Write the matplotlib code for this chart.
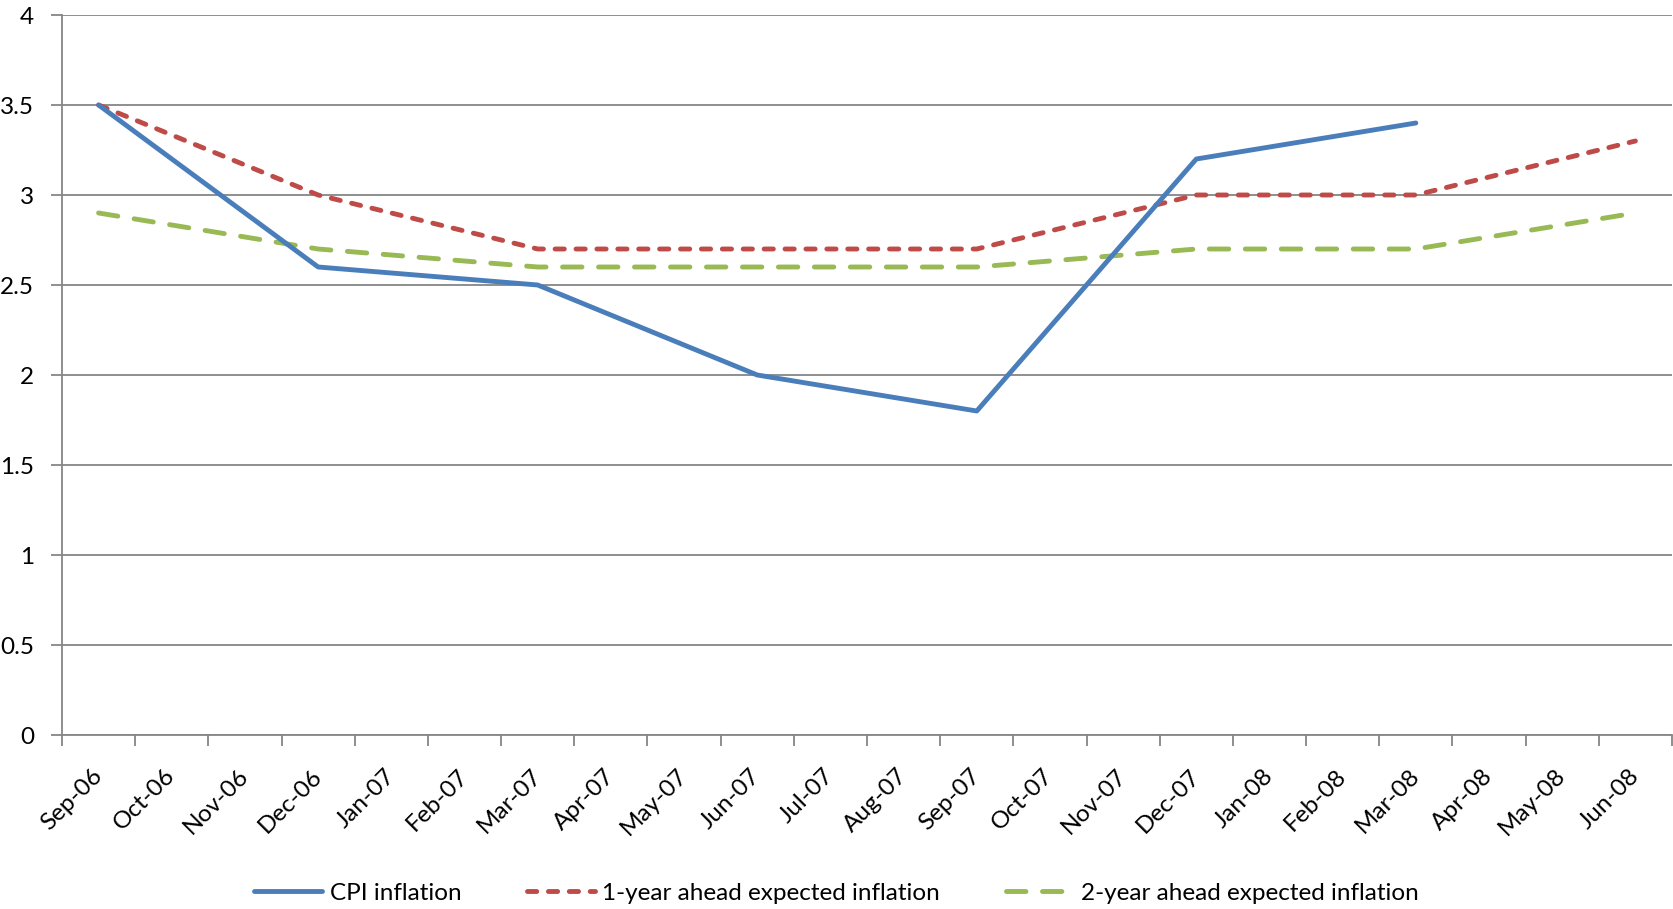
import numpy as np
import matplotlib
matplotlib.use("Agg")
import matplotlib.pyplot as plt

plt.rcParams['font.family'] = ['Lato', 'DejaVu Sans']

months = ["Sep-06", "Oct-06", "Nov-06", "Dec-06", "Jan-07", "Feb-07", "Mar-07",
          "Apr-07", "May-07", "Jun-07", "Jul-07", "Aug-07", "Sep-07", "Oct-07",
          "Nov-07", "Dec-07", "Jan-08", "Feb-08", "Mar-08", "Apr-08", "May-08",
          "Jun-08"]

# quarterly observations
obs_months = ["Sep-06", "Dec-06", "Mar-07", "Jun-07", "Sep-07", "Dec-07", "Mar-08", "Jun-08"]
cpi_inflation = [3.5, 2.6, 2.5, 2.0, 1.8, 3.2, 3.4, None]
expected_1y = [3.5, 3.0, 2.7, 2.7, 2.7, 3.0, 3.0, 3.3]
expected_2y = [2.9, 2.7, 2.6, 2.6, 2.6, 2.7, 2.7, 2.9]

W, H = 1673, 909
fig = plt.figure(figsize=(W / 100, H / 100), dpi=100)
ax = fig.add_axes([62 / W, 1 - 735 / H, (1672 - 62) / W, (735 - 15) / H])

grid_c = "#868686"
fs = 17.5
xpos = [months.index(m) for m in obs_months]


def series(vals):
    x = [p for p, v in zip(xpos, vals) if v is not None]
    y = [v for v in vals if v is not None]
    return x, y


x, y = series(cpi_inflation)
ax.plot(x, y, color="#4A7EBB", lw=3.5, solid_capstyle="round",
        solid_joinstyle="round", label="CPI inflation", zorder=4)
x, y = series(expected_1y)
l1, = ax.plot(x, y, color="#BE4B48", lw=3.5, dash_capstyle="round",
              label="1-year ahead expected inflation", zorder=3)
l1.set_dashes((1.9, 2.4))
x, y = series(expected_2y)
l2, = ax.plot(x, y, color="#98B954", lw=3.5, dash_capstyle="round",
              label="2-year ahead expected inflation", zorder=2)
l2.set_dashes((4.0, 3.4))

ax.set_xlim(-0.5, len(months) - 0.5)
ax.set_ylim(0, 4)
ax.set_yticks(np.arange(0, 4.01, 0.5))
ax.set_yticklabels(["0", "0.5", "1", "1.5", "2", "2.5", "3", "3.5", "4"])
ax.yaxis.grid(True, color=grid_c, lw=1.3)
ax.set_axisbelow(True)

ax.set_xticks(np.arange(-0.5, len(months), 1.0))
ax.set_xticklabels([])
ax.set_xticks(np.arange(len(months)), minor=True)
ax.set_xticklabels(months, minor=True, rotation=45, ha="right",
                   va="center", rotation_mode="anchor")
ax.tick_params(axis="x", which="major", direction="out", length=8,
               width=1.3, color=grid_c)
ax.tick_params(axis="x", which="minor", length=0, pad=27, labelsize=fs)
ax.tick_params(axis="y", direction="out", length=8, width=1.3,
               color=grid_c, labelsize=fs, pad=12)

for s in ["top", "right"]:
    ax.spines[s].set_visible(False)
for s in ["left", "bottom"]:
    ax.spines[s].set_color(grid_c)
    ax.spines[s].set_linewidth(1.3)

fig.legend(loc="center", bbox_to_anchor=(0.5, 1 - 893 / H), ncol=3,
           frameon=False, fontsize=fs, handlelength=2.8,
           handletextpad=0.3, columnspacing=2.7)

fig.savefig("out.png", dpi=100, facecolor="white")
